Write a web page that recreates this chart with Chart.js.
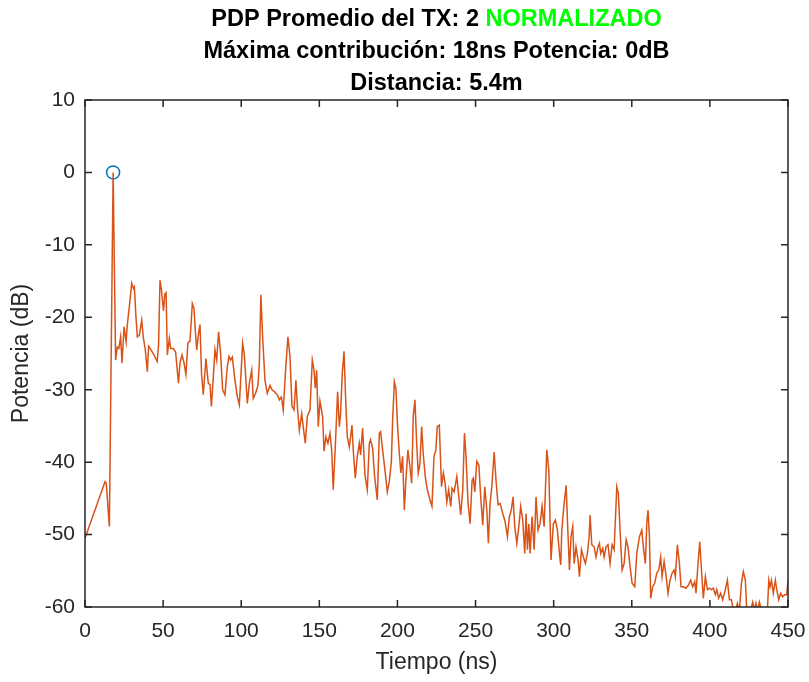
<!DOCTYPE html>
<html lang="es">
<head>
<meta charset="utf-8">
<title>PDP Promedio del TX: 2</title>
<script src="https://cdn.jsdelivr.net/npm/chart.js@4.4.1/dist/chart.umd.min.js"></script>
<style>
  html, body { margin: 0; padding: 0; background: #fff; }
  #wrap { width: 809px; height: 682px; }
</style>
</head>
<body>
<div id="wrap"><canvas id="pdpChart" width="809" height="682"></canvas></div>
<script>
// datos (tiempo en ns, potencia normalizada en dB)
const tiempoNs = [
  0, 12.8, 13.6, 15.6, 18, 19.6, 20.7, 21.7, 22.8, 23.7, 25, 26.3, 27.1, 28.4, 29.9, 31, 31.6, 32.6, 33.5, 34.8,
  36.3, 37.3, 38.6, 39.9, 40.7, 42, 44.1, 46.2, 47.1, 48, 49, 50.2, 51.1, 51.9, 52.7, 54, 54.8, 56.5, 58, 59.8,
  60.8, 62.1, 63.4, 64.6, 65.9, 67.2, 68.7, 69.8, 70.6, 71.5, 72.5, 73.6, 74.6, 75.7,
  77.4, 78.9, 80, 80.9, 82.1, 83.2, 84.3, 85.5, 86.8, 88.1, 89.6, 91.1, 92.2, 93.2, 94.3, 96, 97.5, 98.8,
  100.9, 102, 103, 103.9, 105.2, 106.7, 107.7, 109.2, 110.7, 111.6, 112.6, 113.7, 115.2, 116.7, 118.4, 119.7,
  121.4, 123.1, 124.4, 125.7, 126.9, 128.4, 129.9, 131.2, 132.5, 133.8, 135, 136.1, 137.2, 138.7, 139.7, 141,
  142.3, 144, 145.5, 146.6, 147.4, 148.3, 149.3,
  150.4, 152.1, 153, 154.2, 155.5, 156.8, 157.9, 158.9, 160.2, 161.7, 162.8, 163.6, 164.7, 165.8, 166.8, 167.9,
  169.2, 170.9, 171.7, 173, 174.3, 175.6, 176.4, 177.7, 179.2, 180.7, 182, 182.8, 184.1, 185.4, 187.1, 188.4,
  189.2, 190.5, 192, 193.5, 194.8, 196.1, 196.9, 198, 199, 200.1, 201.2, 202.2, 203.3, 204.4, 205.4, 206.7,
  208, 209.1, 210.1, 211.2, 212.3, 213.3, 214.4, 215.5, 216.5, 217.8, 219.1, 220.8, 222.1, 223.4, 224.6, 225.5, 226.8,
  228.2, 229.4, 230.5, 231.6, 232.8, 234.1, 235, 236.3, 238, 239.3, 240.5, 241.8, 242.9, 243.9, 245.2, 246.5,
  247.8, 248.6, 249.5, 250.8, 252.1, 253.3, 254.6, 255.9, 257.2, 258.2, 259.3, 260.4, 261.9, 263.1, 264.4, 265.7,
  267.4, 268.9, 270.4, 271.7, 272.9, 274, 275.1, 276.4, 277.7, 278.9, 280.2, 281.5, 282.3, 283.2, 284.1, 284.9,
  286.2, 287.5, 288.7, 290, 291.3, 292.6, 293.9, 295.6, 296.9, 298.3, 299.8, 301.1, 302.4, 303.7,
  304.5, 305.2, 306.7, 308, 308.8, 310.1, 311.1, 312.2, 313.1, 314.3, 315.6, 316.5, 317.8, 319, 320.3, 321.6,
  322.7, 323.3, 324.4, 325.9, 327.1, 328.4, 329.3, 330.1, 331.4, 332.3, 333.5, 334.8, 336.1, 337.4, 338.7, 339.5,
  340.4, 341.4, 342.5, 343.8, 345.1, 346.4, 347.6, 348.9, 350.2, 351.9, 353.2, 354.9, 356.4, 357.4, 358.7, 359.6,
  360.4, 361.3, 362.1, 363.4, 364.7, 366, 367.3, 368.5, 369.4, 370.7, 372, 373.2, 374.5,
  375.8, 377.1, 377.9, 379.2, 380.5, 381.5, 383, 384.7, 386.2, 387.7, 389, 390.3, 391.1, 392.4, 393.5, 394.6,
  395.8, 397.1, 398.4, 399.7, 400.9, 402.2, 403.5, 404.4, 405.6, 406.9, 408.2, 409.9, 411.2, 412.5, 413.8, 415,
  416.3, 417.6, 418.9, 420.2, 421.4, 422.7, 423.6, 424.9, 426.1, 427.4, 428.7, 429.5, 430.4, 431.7, 433, 434.2,
  435.5, 436.8, 437.7, 438.5, 439.4, 440.6, 441.9, 442.8, 444.1, 445.3, 446.6, 447.9, 449.2, 450
];
const potenciaDb = [
  -50.5, -42.7, -42.9, -48.9, 0, -25.9, -24.1, -24.3, -22.7, -26.3, -21.3, -23.4, -21, -18.5, -15.3, -16, -15.8, -19.9, -22.7, -22.5,
  -20.4, -22.7, -24.5, -27.5, -24, -24.4, -25.2, -26.1, -23.8, -14.9, -16.3, -19.1, -16.8, -16.6, -25.2, -22.9, -24.3, -24.3, -24.8, -29.1,
  -26.3, -25.2, -26.3, -27.9, -23.5, -23.3, -18.1, -18.8, -21.8, -24.5, -22.5, -21, -27.8, -30.7,
  -25.7, -29.1, -29.3, -32.3, -28.4, -24.5, -25.9, -22, -25, -30, -30.7, -26.8, -25.4, -25.9, -25.5, -28.7, -31, -32.1,
  -23.6, -25.2, -28.7, -31.9, -29.1, -27.3, -31.2, -30.5, -29.4, -26.4, -16.9, -22.7, -28.7, -30.5, -29.4, -30,
  -30.3, -30.7, -31.4, -31, -32.8, -27.3, -22.7, -25.4, -32.3, -32.8, -28.7, -32.8, -35.6, -33.3, -35.1, -37.4,
  -33.7, -32.8, -25.9, -27.3, -29.8, -27.3, -35.1,
  -31.6, -33.7, -38.5, -36.5, -37.4, -36, -38.3, -43.8, -37.9, -30.3, -35.1, -33.3, -27.7, -24.7, -31, -36.5,
  -37.9, -34.9, -38.3, -42.2, -39.2, -37.4, -39, -35.3, -41.8, -43.8, -37.4, -36.9, -38.1, -42, -45.2, -36,
  -35.8, -38.3, -41.1, -44.1, -42.7, -39.9, -34.4, -28.9, -29.8, -35.1, -38.8, -41.5, -39.2, -46.6, -42.5, -38.3,
  -40.6, -42.9, -33.7, -31.4, -37.4, -41.5, -40.2, -35.1, -38.8, -42, -43.8, -45.2, -46.1, -39.2, -38.3, -35.1, -34.9,
  -43.4, -41.5, -42.9, -45.5, -43.8, -46.1, -43.6, -44.1, -42, -44.8, -47.3, -43.8, -36, -39.2, -45.7, -48.5,
  -42.5, -42.2, -44.1, -39.9, -40.4, -44.8, -48.7, -43.4, -46.6, -51.2, -45.7, -43.4, -38.6, -42.5, -45.9, -45.7,
  -47.1, -48.2, -50.3, -47.5, -46.6, -44.8, -48.9, -51.2, -48.9, -46.1, -48, -52.6, -47.1, -52.1, -48.5, -52.6,
  -47.5, -52.1, -44.8, -49.4, -48.5, -46.1, -48.9, -38.3, -41.1, -53.5, -48.5, -48, -49.4, -52.6,
  -54.2, -49.4, -45.7, -43.2, -48, -54.9, -50.3, -48.9, -54, -51.7, -53.5, -55.8, -52.1, -53.1, -54, -52.6,
  -50.3, -47.3, -51.4, -51.7, -53.1, -51.7, -51.2, -52.6, -51.9, -53.1, -51.7, -51.4, -54, -51.4, -52.1, -48,
  -43.4, -44.3, -49.4, -54.9, -54, -50.7, -51.7, -54.4, -56.7, -57.2, -52.6, -50.3, -49.4, -51.7, -54, -48.5,
  -46.6, -50.3, -58.8, -57.2, -56.7, -55.3, -54.9, -53.1, -55.8, -53.7, -55.8, -58.1, -56.3,
  -55.3, -54.9, -55.8, -51.4, -54, -57.2, -57.2, -57.4, -57, -56.3, -57.2, -56.5, -58.1, -54, -51, -54.9,
  -58.8, -55.8, -57.6, -57.4, -57.6, -57.4, -58.3, -57.6, -58.8, -58.1, -59, -57.6, -56.3, -59, -59, -60.5,
  -60.5, -59.5, -60.5, -56.7, -55.1, -56.3, -60.5, -60.2, -60.5, -59.3, -60.5, -59.5, -60.5, -59.3, -60.5, -60.2,
  -60.5, -60.5, -56.3, -57.2, -56.3, -58.1, -56.3, -57.6, -59, -58.1, -58.6, -58.3, -58.3, -56.3
];
// maxima contribucion (marcador)
const maxTiempo = [18];
const maxPotencia = [0];
// marcas de los ejes
const ticksX = [0, 50, 100, 150, 200, 250, 300, 350, 400, 450];
const ticksY = [-60, -50, -40, -30, -20, -10, 0, 10];
// titulo
const tituloLinea1 = "PDP Promedio del TX: 2 ";
const tituloVerde = "NORMALIZADO";
const tituloLinea2 = "Máxima contribución: 18ns Potencia: 0dB";
const tituloLinea3 = "Distancia: 5.4m";

window.addEventListener("DOMContentLoaded", () => {
  const ctx = document.getElementById("pdpChart").getContext("2d");
  const fuente = "'Liberation Sans', Arial, Helvetica, sans-serif";
  const gris = "#262626";

  Chart.defaults.font.family = fuente;
  Chart.defaults.color = gris;

  // titulo de tres lineas, la palabra NORMALIZADO en verde
  const tituloPlugin = {
    id: "tituloPdp",
    afterDraw(chart) {
      const c = chart.ctx;
      const a = chart.chartArea;
      const cx = (a.left + a.right) / 2;
      c.save();
      c.font = "bold 23.5px " + fuente;
      c.textBaseline = "alphabetic";
      c.textAlign = "left";
      const w1 = c.measureText(tituloLinea1).width;
      const w2 = c.measureText(tituloVerde).width;
      const x0 = cx - (w1 + w2) / 2;
      c.fillStyle = "#000";
      c.fillText(tituloLinea1, x0, 26);
      c.fillStyle = "#00ff00";
      c.fillText(tituloVerde, x0 + w1, 26);
      c.textAlign = "center";
      c.fillStyle = "#000";
      c.fillText(tituloLinea2, cx, 58);
      c.fillText(tituloLinea3, cx, 90);
      c.restore();
    },
  };

  // caja y marcas hacia dentro (estilo matlab)
  const cajaPlugin = {
    id: "cajaEjes",
    afterDatasetsDraw(chart) {
      const c = chart.ctx;
      const a = chart.chartArea;
      const sx = chart.scales.x;
      const sy = chart.scales.y;
      const largo = 7;
      c.save();
      c.strokeStyle = gris;
      c.lineWidth = 1.5;
      c.beginPath();
      sx.ticks.forEach((t) => {
        const px = sx.getPixelForValue(t.value);
        c.moveTo(px, a.bottom);
        c.lineTo(px, a.bottom - largo);
        c.moveTo(px, a.top);
        c.lineTo(px, a.top + largo);
      });
      sy.ticks.forEach((t) => {
        const py = sy.getPixelForValue(t.value);
        c.moveTo(a.left, py);
        c.lineTo(a.left + largo, py);
        c.moveTo(a.right, py);
        c.lineTo(a.right - largo, py);
      });
      c.stroke();
      c.strokeRect(a.left, a.top, a.right - a.left, a.bottom - a.top);
      c.restore();
    },
  };

  new Chart(ctx, {
    type: "line",
    data: {
      datasets: [
        {
          label: "PDP",
          data: tiempoNs.map((t, i) => ({ x: t, y: potenciaDb[i] })),
          borderColor: "#D95319",
          borderWidth: 1.5,
          pointRadius: 0,
          tension: 0,
          fill: false,
        },
        {
          label: "Máximo",
          data: maxTiempo.map((t, i) => ({ x: t, y: maxPotencia[i] })),
          showLine: false,
          pointRadius: 6.5,
          pointBorderColor: "#0072BD",
          pointBackgroundColor: "rgba(0,0,0,0)",
          pointBorderWidth: 1.5,
        },
      ],
    },
    options: {
      responsive: false,
      animation: false,
      devicePixelRatio: 1,
      layout: {
        padding: { top: 100, right: 21, left: 0, bottom: 0 },
      },
      plugins: {
        legend: { display: false },
        tooltip: { enabled: false },
        title: { display: false },
      },
      scales: {
        x: {
          type: "linear",
          min: 0,
          max: 450,
          afterBuildTicks: (scale) => {
            scale.ticks = ticksX.map((v) => ({ value: v }));
          },
          afterFit: (scale) => {
            scale.height = 75;
            scale.paddingLeft = 0;
            scale.paddingRight = 0;
          },
          grid: { display: false, drawTicks: false, tickLength: 0 },
          border: { display: false },
          ticks: {
            font: { size: 21 },
            color: gris,
            padding: 12,
            maxRotation: 0,
            autoSkip: false,
          },
          title: {
            display: true,
            text: "Tiempo (ns)",
            font: { size: 23 },
            color: gris,
            padding: { top: 0, bottom: 6 },
          },
        },
        y: {
          type: "linear",
          min: -60,
          max: 10,
          afterBuildTicks: (scale) => {
            scale.ticks = ticksY.map((v) => ({ value: v }));
          },
          afterFit: (scale) => {
            scale.width = 85;
            scale.paddingTop = 0;
            scale.paddingBottom = 0;
          },
          grid: { display: false, drawTicks: false, tickLength: 0 },
          border: { display: false },
          ticks: {
            font: { size: 21 },
            color: gris,
            padding: 10,
            autoSkip: false,
          },
          title: {
            display: true,
            text: "Potencia (dB)",
            font: { size: 23 },
            color: gris,
            padding: { top: 8, bottom: 0 },
          },
        },
      },
    },
    plugins: [tituloPlugin, cajaPlugin],
  });
});
</script>
</body>
</html>
